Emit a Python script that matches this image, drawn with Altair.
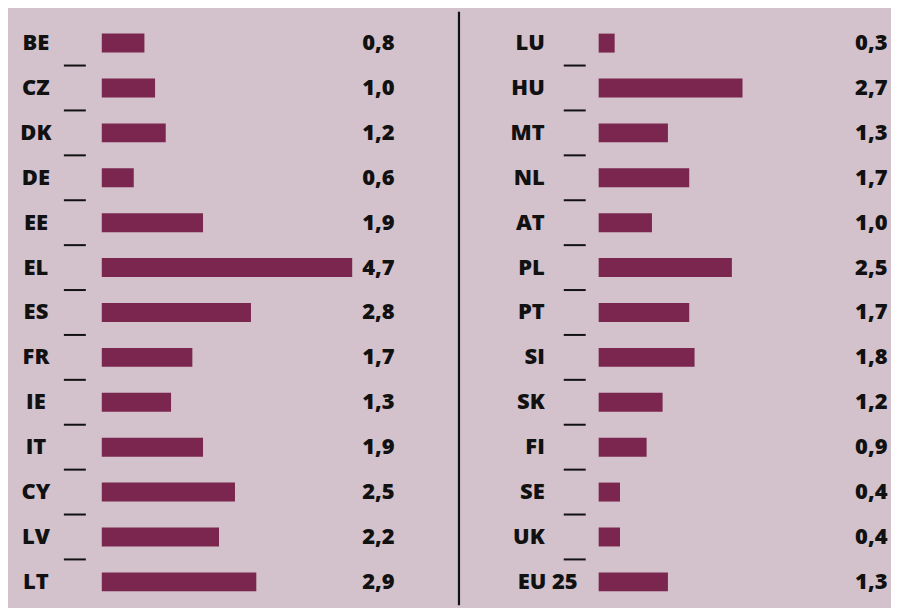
import altair as alt
import pandas as pd

left_countries = ["BE", "CZ", "DK", "DE", "EE", "EL", "ES", "FR", "IE", "IT", "CY", "LV", "LT"]
left_values = [0.8, 1.0, 1.2, 0.6, 1.9, 4.7, 2.8, 1.7, 1.3, 1.9, 2.5, 2.2, 2.9]
right_countries = ["LU", "HU", "MT", "NL", "AT", "PL", "PT", "SI", "SK", "FI", "SE", "UK", "EU 25"]
right_values = [0.3, 2.7, 1.3, 1.7, 1.0, 2.5, 1.7, 1.8, 1.2, 0.9, 0.4, 0.4, 1.3]

BAR = "#7a264e"
BG = "#d3c2cc"
INK = "#111111"
FONT = "Open Sans"
FS = 22
FW = 800
PX_PER_UNIT = 53.4
H = 598


def fmt(v):
    return f"{v:.1f}".replace(".", ",")


def frame(countries, values):
    return pd.DataFrame({
        "country": countries,
        "value": values,
        "text": [fmt(v) for v in values],
        "row": list(range(len(countries))),
    })


def panel(countries, values, width, bar_start, tick_x, label_layers, value_x, divider=False):
    df = frame(countries, values)
    dom = [-bar_start / PX_PER_UNIT, (width - bar_start) / PX_PER_UNIT]
    yenc = alt.Y("country:N", sort=countries, axis=None,
                 scale=alt.Scale(paddingInner=0, paddingOuter=0.1444, align=0.923))
    base = alt.Chart(df).encode(y=yenc)
    bars = base.mark_bar(color=BAR, size=19).encode(
        x=alt.X("value:Q", scale=alt.Scale(domain=dom, nice=False, zero=False), axis=None),
        x2=alt.datum(0),
    )
    ticks = base.transform_filter(alt.datum.row < len(countries) - 1).mark_rule(
        color=INK, strokeWidth=2, yOffset=22.5
    ).encode(x=alt.value(tick_x[0]), x2=alt.value(tick_x[1]))
    layers = [bars, ticks]
    for flt, xpos, align in label_layers:
        layers.append(
            base.transform_filter(flt).mark_text(
                align=align, baseline="middle", font=FONT, fontWeight=FW,
                fontSize=FS, color=INK
            ).encode(x=alt.value(xpos), text="country:N")
        )
    layers.append(
        base.mark_text(align="left", baseline="middle", font=FONT, fontWeight=FW,
                       fontSize=FS, color=INK).encode(x=alt.value(value_x), text="text:N")
    )
    if divider:
        layers.append(
            alt.Chart(pd.DataFrame({"d": [0]})).mark_rule(color=INK, strokeWidth=2.2).encode(
                x=alt.value(0), y=alt.value(3), y2=alt.value(H)
            )
        )
    return alt.layer(*layers).properties(width=width, height=H)


left = panel(left_countries, left_values, 450, 94, (56, 78),
             [(alt.datum.row >= 0, 28, "center")], 355)
right = panel(right_countries, right_values, 433, 140, (105, 127),
              [(alt.datum.row < 12, 86, "right"), (alt.datum.row == 12, 119, "right")],
              397, divider=True)

chart = (
    alt.hconcat(left, right, spacing=0)
    .properties(padding=0)
    .configure(background=BG)
    .configure_view(stroke=None, fill=BG)
)

chart.save("out.html", embed_options={"renderer": "svg", "actions": False})
